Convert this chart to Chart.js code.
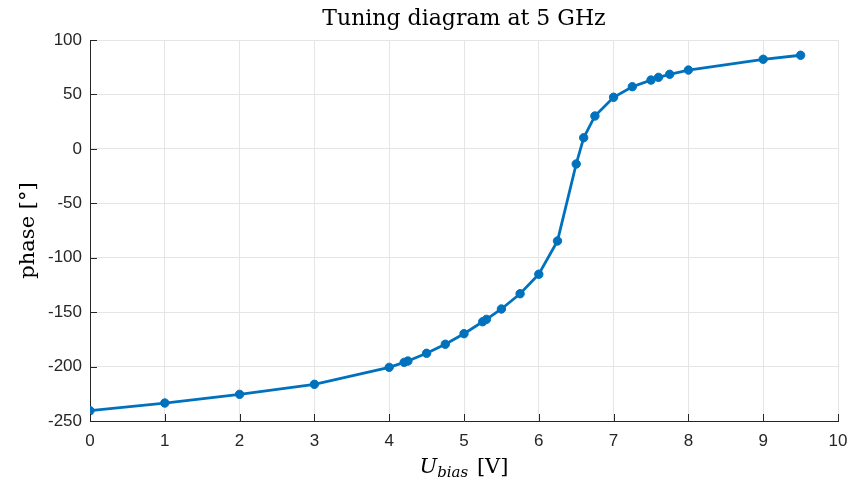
<!DOCTYPE html>
<html>
<head>
<meta charset="utf-8">
<title>Tuning diagram</title>
<script src="https://cdn.jsdelivr.net/npm/chart.js@4/dist/chart.umd.min.js"></script>
<style>
  body { margin: 0; background: #fff; }
  canvas { display: block; }
</style>
</head>
<body>
<canvas id="tuning_chart" width="850" height="486"></canvas>
<script>
// measured phase vs. bias voltage
const biasVoltage = [0, 1, 2, 3, 4, 4.2, 4.25, 4.5, 4.75, 5, 5.25, 5.3, 5.5, 5.75, 6, 6.25, 6.5, 6.6, 6.75, 7, 7.25, 7.5, 7.6, 7.75, 8, 9, 9.5];
const phaseDeg = [-240.5, -233.5, -225.5, -216.3, -200.7, -196.1, -194.9, -187.8, -179.5, -169.8, -158.8, -156.6, -147.1, -133.1, -115.2, -84.6, -13.9, 10.2, 30.2, 47.4, 57.1, 63.2, 65.7, 68.5, 72.4, 82.3, 86];

const xTicks = [0, 1, 2, 3, 4, 5, 6, 7, 8, 9, 10];
const yTicks = [-250, -200, -150, -100, -50, 0, 50, 100];

const titleText = 'Tuning diagram at 5 GHz';
const yLabelText = 'phase [°]';

const axisColor = '#262626';
const gridColor = '#e5e5e5';
const lineColor = '#0072bd';
const serif = '"DejaVu Serif", serif';
const sans = '"Liberation Sans", Arial, sans-serif';

const points = [];
for (let i = 0; i < biasVoltage.length; i++) {
    points.push({ x: biasVoltage[i], y: phaseDeg[i] });
}

// title, axis labels and inward tick marks (matlab look)
const labelsPlugin = {
    id: 'labels',
    afterDraw(chart) {
        const ctx = chart.ctx;
        const area = chart.chartArea;
        const xs = chart.scales.x;
        const ys = chart.scales.y;
        const cx = (area.left + area.right) / 2;
        const cy = (area.top + area.bottom) / 2;

        ctx.save();
        ctx.strokeStyle = axisColor;
        ctx.lineWidth = 1;
        ctx.beginPath();
        xTicks.forEach(v => {
            const px = Math.round(xs.getPixelForValue(v)) + 0.5;
            ctx.moveTo(px, area.bottom);
            ctx.lineTo(px, area.bottom - 7);
        });
        yTicks.forEach(v => {
            const py = Math.round(ys.getPixelForValue(v)) + 0.5;
            ctx.moveTo(area.left, py);
            ctx.lineTo(area.left + 7, py);
        });
        ctx.stroke();

        ctx.fillStyle = '#000';
        ctx.textAlign = 'center';
        ctx.textBaseline = 'alphabetic';
        ctx.font = '22px ' + serif;
        ctx.fillText(titleText, cx, 25);

        // y label, rotated
        ctx.font = '21px ' + serif;
        ctx.save();
        ctx.translate(34, cy);
        ctx.rotate(-Math.PI / 2);
        ctx.fillText(yLabelText, 0, 0);
        ctx.restore();

        // x label: U with subscript "bias", then [V]
        const partU = 'U';
        const partSub = 'bias';
        const partUnit = ' [V]';
        ctx.font = 'italic 21px ' + serif;
        const wU = ctx.measureText(partU).width;
        ctx.font = 'italic 15px ' + serif;
        const wSub = ctx.measureText(partSub).width;
        ctx.font = '21px ' + serif;
        const wUnit = ctx.measureText(partUnit).width;
        let x0 = cx - (wU + wSub + 2 + wUnit) / 2;
        const base = 473;
        ctx.textAlign = 'left';
        ctx.font = 'italic 21px ' + serif;
        ctx.fillText(partU, x0, base);
        x0 += wU;
        ctx.font = 'italic 15px ' + serif;
        ctx.fillText(partSub, x0, base + 4);
        x0 += wSub + 2;
        ctx.font = '21px ' + serif;
        ctx.fillText(partUnit, x0, base);
        ctx.restore();
    }
};

const ctx = document.getElementById('tuning_chart').getContext('2d');
const tuningChart = new Chart(ctx, {
    type: 'scatter',
    data: {
        datasets: [{
            label: 'phase',
            data: points,
            showLine: true,
            borderColor: lineColor,
            backgroundColor: lineColor,
            borderWidth: 2.8,
            pointRadius: 4.2,
            pointBorderWidth: 1,
            pointHoverRadius: 4.2
        }]
    },
    options: {
        responsive: false,
        animation: false,
        devicePixelRatio: 1,
        layout: {
            padding: { left: 0, right: 12, top: 40, bottom: 0 }
        },
        plugins: {
            legend: { display: false },
            tooltip: { enabled: false }
        },
        scales: {
            x: {
                type: 'linear',
                min: 0,
                max: 10,
                afterFit: s => { s.height = 65; s.paddingLeft = 0; s.paddingRight = 0; },
                afterBuildTicks: s => { s.ticks = xTicks.map(v => ({ value: v })); },
                grid: { color: gridColor, drawTicks: false },
                border: { color: axisColor, width: 1 },
                ticks: {
                    color: axisColor,
                    padding: 10,
                    font: { family: sans, size: 17 }
                }
            },
            y: {
                type: 'linear',
                min: -250,
                max: 100,
                afterFit: s => { s.width = 90; s.paddingTop = 0; s.paddingBottom = 0; },
                afterBuildTicks: s => { s.ticks = yTicks.map(v => ({ value: v })); },
                grid: { color: gridColor, drawTicks: false },
                border: { color: axisColor, width: 1 },
                ticks: {
                    color: axisColor,
                    padding: 8,
                    font: { family: sans, size: 17 }
                }
            }
        }
    },
    plugins: [labelsPlugin]
});
</script>
</body>
</html>
